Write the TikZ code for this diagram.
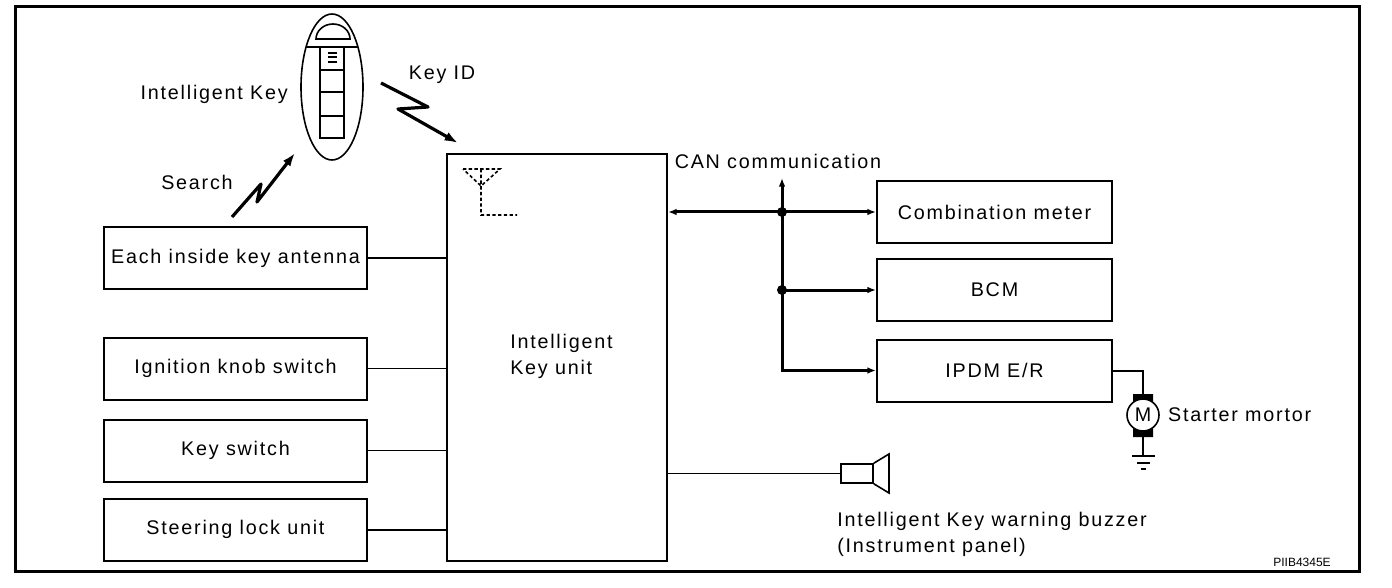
\documentclass[tikz,border=0pt]{standalone}
\usepackage{fontspec}
\setmainfont{Liberation Sans}
\newfontfamily\lblfont{Liberation Sans}[LetterSpace=9]
\usetikzlibrary{arrows.meta,positioning}

\def\u{0.75pt}
\tikzset{
 box/.style={draw,line width=1.5pt,minimum width=263*\u,minimum height=62*\u},
 rbox/.style={box,minimum width=235*\u},
 bus/.style={line width=2.25pt},
 bt/.tip={Latex[length=6.5pt,width=5pt]},
 zz/.style={line width=2.4pt,line join=round,-{Latex[length=10pt,width=7pt]}},
 dsh/.style={line width=1.2pt,dash pattern=on 2.5pt off 1.8pt}
}

\begin{document}
\begin{tikzpicture}[x=\u,y=-\u,font=\lblfont\fontsize{14.8}{19.5}\selectfont]
\useasboundingbox (0,0) rectangle (1392,588);
\draw[line width=2.25pt] (15,7) rectangle (1359,571);

% inputs
\foreach \n/\y/\t in {ant/258/Each inside key antenna,ign/368.5/Ignition knob switch,ksw/450.5/Key switch,slu/529.5/Steering lock unit}
 \node[box] (\n) at (235.5,\y) {\t};

\node[box,minimum width=220*\u,minimum height=407*\u] (iku) at (557,357.5) {};
\node[anchor=west,align=left,inner sep=0pt] (ikut) at (510,356) {Intelligent\\Key unit};
\foreach \n/\w in {ant/1.5,ign/0.8,ksw/0.8,slu/1.5}
 \draw[line width=\w pt] (\n) -- (\n -| iku.west);
\draw[dsh] (463,169) -- (500,169) -- (481,186) -- cycle (481,169) -- (481,215) -- (517,215);

% CAN
\node[rbox] (cmb) at (994.5,212) {Combination meter};
\node[rbox] (bcm) at (994.5,290) {BCM};
\node[rbox] (ipdm) at (994.5,370.5) {IPDM E/R};
\coordinate (can) at (782,178);
\node (canl) at (778,161) {CAN communication};
\draw[bus,bt-bt] (iku.east |- cmb.west) -- (cmb.west);
\draw[bus,bt-bt] (can) -- (can |- ipdm.west) -- (ipdm.west);
\draw[bus,-bt] (can |- bcm.west) -- (bcm.west);
\foreach \n in {cmb,bcm} \fill (can |- \n.west) circle (5);

% starter motor
\fill (1133,394) rectangle (1153,404) (1133,426) rectangle (1153,437);
\node[circle,draw,fill=white,line width=1.2pt,minimum size=32*\u,inner sep=0pt] (mot) at (1143,415) {M};
\node[right=6pt of mot,inner sep=0pt] (motl) {Starter mortor};
\coordinate (gnd) at (1143,456);
\draw[line width=1.5pt] (ipdm.east) -| (mot.north);
\draw[line width=1.5pt] (mot) -- (gnd);
\draw[line width=1.2pt] (1132,456) -- (1155,456) (1137,463) -- (1150,463) (1141,469) -- (1146,469);

% buzzer
\node[draw,line width=1.2pt,minimum width=32*\u,minimum height=19*\u,inner sep=0pt] (buz) at (857,473.5) {};
\draw[line width=1.2pt] (buz.north east) -- (889,454) -- (889,493) -- (buz.south east);
\draw[line width=0.8pt] (iku.east |- buz.west) -- (buz.west);
\node[anchor=north west,align=left,inner sep=0pt] (buzl) at (837,512) {Intelligent Key warning buzzer\\(Instrument panel)};

% key fob
\begin{scope}[line width=1.2pt]
 \draw (332,87) ellipse (31 and 73);
 \draw (316,39) arc(180:360:17 and 15) -- cycle;
 \draw (306,47) -- (358,47);
 \draw[line width=1.5pt] (320,47) rectangle (344,138);
 \foreach \y in {70,116} \draw[line width=1.5pt] (320,\y) -- (344,\y);
 \draw[line width=0.8pt] (320,92) -- (344,92);
 \foreach \y in {53,57,62} \draw[line width=0.9pt] (328,\y) -- (337,\y);
\end{scope}
\node[anchor=east,inner sep=0pt] (ikey) at (288,94) {Intelligent Key};
\node (keyid) at (442,75) {Key ID};
\node (srch) at (197,182) {Search};
\draw[zz] (381,83) -- (428,107) -- (398,109) -- (458,143);
\draw[zz] (232,217) -- (261,184) -- (257,202) -- (295,153);

\node[anchor=east,inner sep=0pt,font=\fontsize{9}{10}\selectfont] (code) at (1331,562) {PIIB4345E};
\end{tikzpicture}
\end{document}
